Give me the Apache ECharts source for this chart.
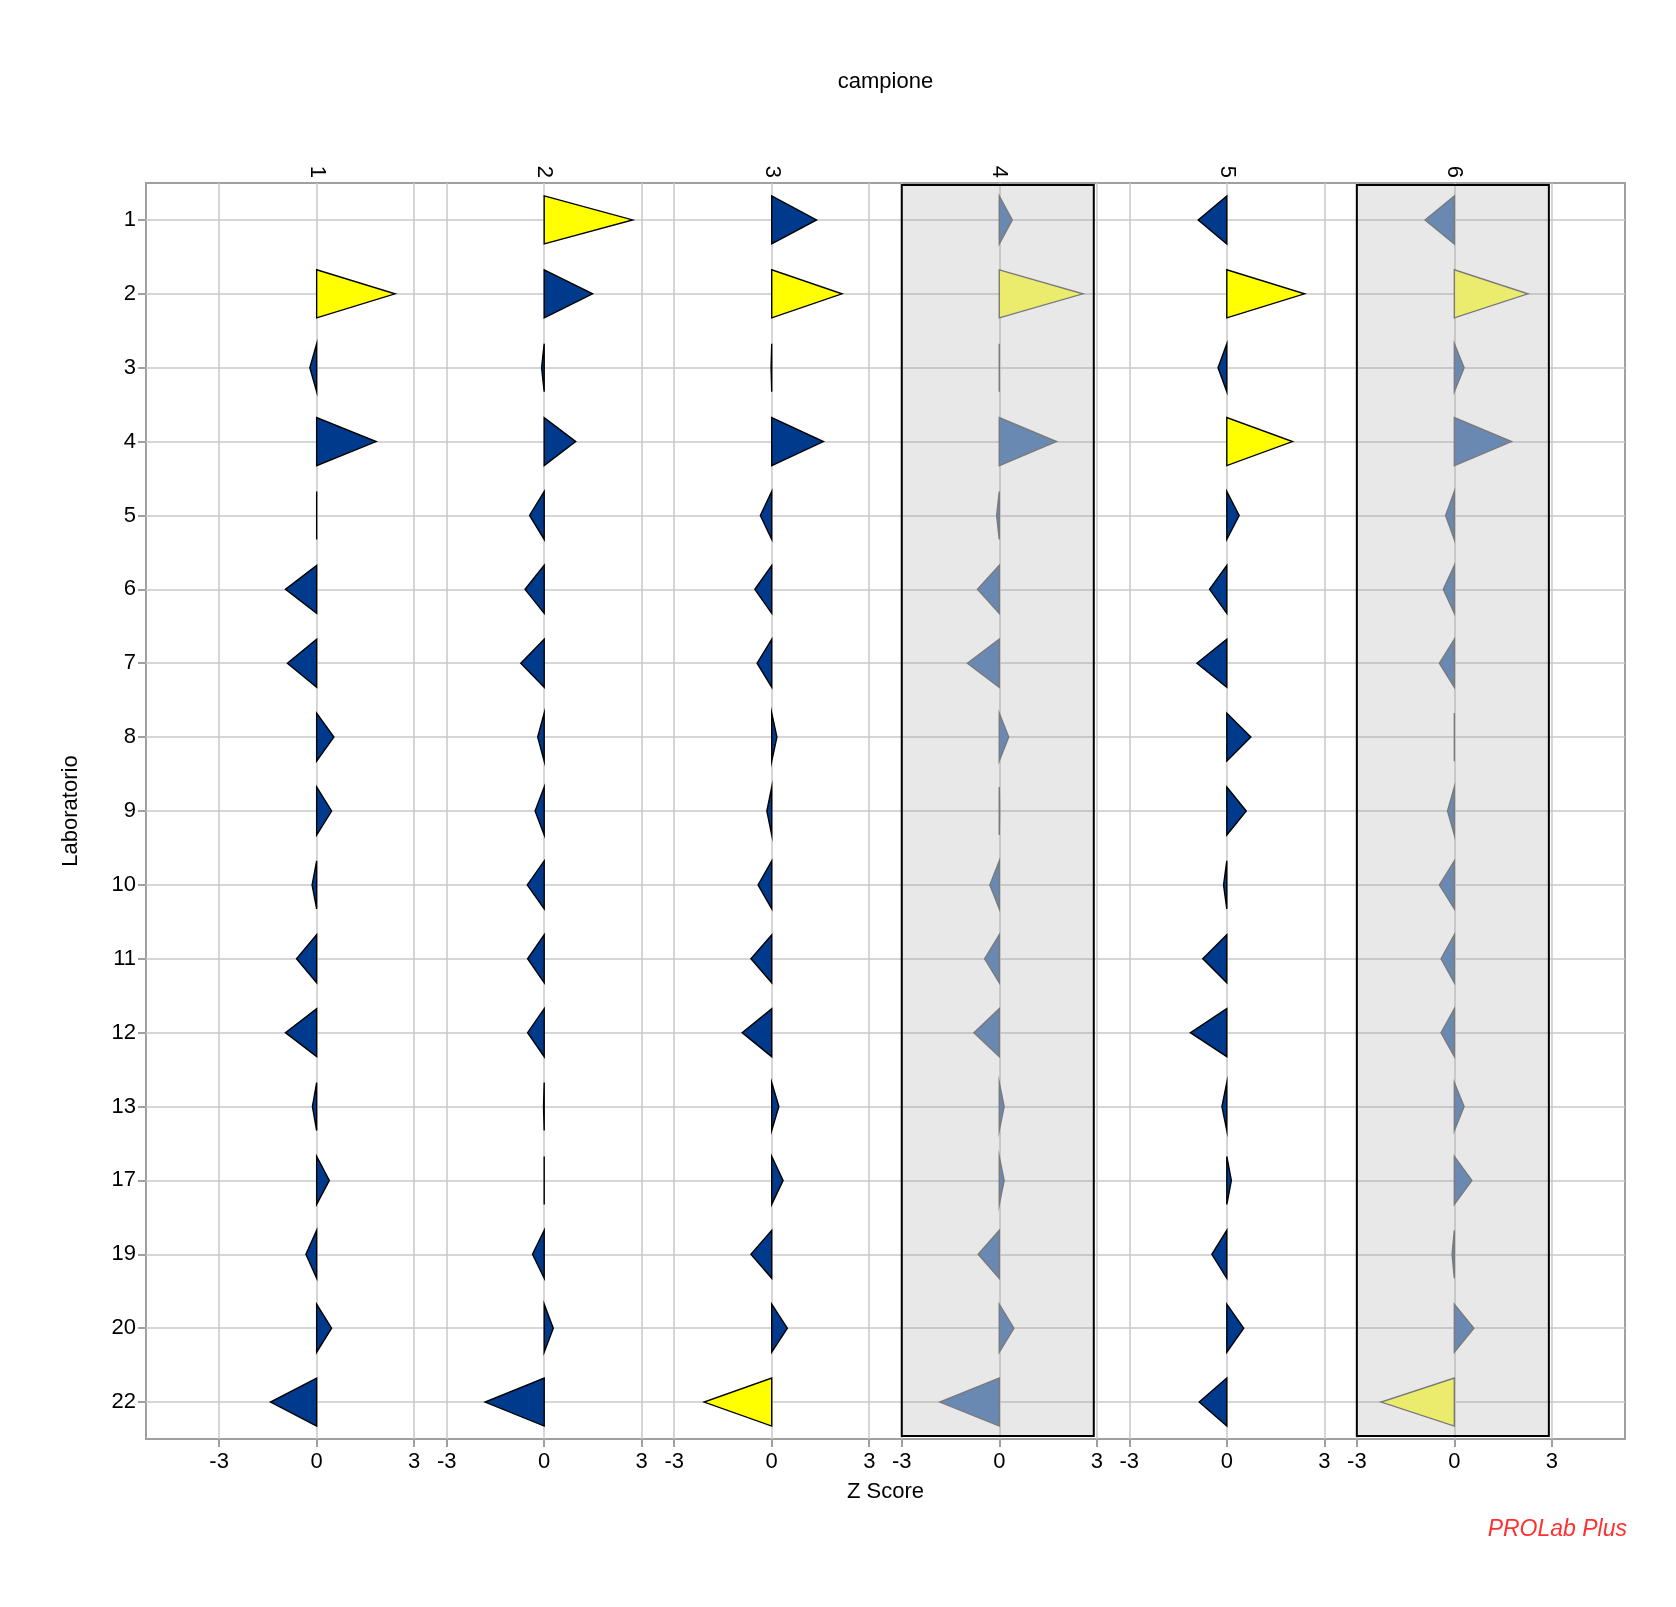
<!DOCTYPE html>
<html>
<head>
<meta charset="utf-8">
<script src="https://cdn.jsdelivr.net/npm/echarts@6/dist/echarts.min.js"></script>
<style>
html,body{margin:0;padding:0;background:#fff;}
#main{width:1676px;height:1607px;}
</style>
</head>
<body>
<div id="main"></div>
<script>
// Laboratories (rows, top to bottom)
const labs = ['1','2','3','4','5','6','7','8','9','10','11','12','13','17','19','20','22'];
// Samples (panels, left to right)
const samples = ['1','2','3','4','5','6'];
// Panels drawn with grey shaded box
const shadedSamples = ['4','6'];
// Z scores per sample, one value per laboratory (null = missing)
const z1 = [null, 2.41, -0.21, 1.83, 0.0, -0.96, -0.90, 0.53, 0.46, -0.14, -0.62, -0.96, -0.13, 0.39, -0.33, 0.46, -1.42];
const z2 = [2.72, 1.49, -0.08, 0.97, -0.45, -0.59, -0.72, -0.20, -0.28, -0.52, -0.51, -0.51, -0.02, 0.0, -0.36, 0.28, -1.82];
const z3 = [1.38, 2.16, -0.02, 1.59, -0.35, -0.52, -0.45, 0.16, -0.15, -0.42, -0.64, -0.91, 0.22, 0.35, -0.64, 0.48, -2.08];
const z4 = [0.40, 2.57, 0.0, 1.76, -0.08, -0.67, -0.98, 0.29, 0.01, -0.29, -0.45, -0.78, 0.15, 0.15, -0.65, 0.45, -1.83];
const z5 = [-0.88, 2.39, -0.27, 2.02, 0.38, -0.53, -0.92, 0.74, 0.60, -0.10, -0.74, -1.12, -0.15, 0.14, -0.46, 0.52, -0.85];
const z6 = [-0.90, 2.26, 0.30, 1.76, -0.27, -0.34, -0.46, 0.0, -0.21, -0.46, -0.41, -0.41, 0.30, 0.54, -0.07, 0.60, -2.25];
// Tick labels of each panel's Z axis
const zTicks = [-3, 0, 3];

const allZ = [z1, z2, z3, z4, z5, z6];
const PANEL_STEP = 7;

// build data for the library
const triData = [];
allZ.forEach(function (arr, p) {
  arr.forEach(function (v, r) {
    if (v !== null) triData.push([p, r, v]);
  });
});
const boxData = [];
samples.forEach(function (s, p) { if (shadedSamples.indexOf(s) >= 0) boxData.push([p]); });

const xTickValues = [];
samples.forEach(function (s, p) { zTicks.forEach(function (t) { xTickValues.push(p * PANEL_STEP + t); }); });
const panelCenters = samples.map(function (s, p) { return p * PANEL_STEP; });
const rowValues = labs.map(function (l, i) { return i; });

const FONT = 'Arial, "Liberation Sans", sans-serif';
const FS = 22;

const chart = echarts.init(document.getElementById('main'), null, {renderer: 'canvas'});

function renderTri(params, api) {
  const p = api.value(0), r = api.value(1), z = api.value(2);
  const base = api.coord([p * PANEL_STEP, r]);
  const tip = api.coord([p * PANEL_STEP + z, r]);
  const h = Math.abs(api.size([0, 1])[1]) * 0.325;
  const faded = shadedSamples.indexOf(samples[p]) >= 0;
  const out = Math.abs(z) >= 2;
  let fill, stroke;
  if (faded) {
    fill = out ? '#ebeb6e' : '#6a89b2';
    stroke = '#7a7a7a';
  } else {
    fill = out ? '#ffff00' : '#003a8c';
    stroke = '#000000';
  }
  return {
    type: 'polygon',
    shape: {points: [[base[0], base[1] - h], [base[0], base[1] + h], [tip[0], tip[1]]]},
    style: {fill: fill, stroke: stroke, lineWidth: 1.4}
  };
}

function renderBox(params, api) {
  const p = api.value(0);
  const a = api.coord([p * PANEL_STEP + zTicks[0], -0.5]);
  const b = api.coord([p * PANEL_STEP + zTicks[zTicks.length - 1], labs.length - 0.5]);
  const y0 = Math.min(a[1], b[1]) + 2, y1 = Math.max(a[1], b[1]) - 3;
  return {
    type: 'rect',
    shape: {x: a[0], y: y0, width: b[0] - a[0] - 3, height: y1 - y0},
    style: {fill: 'rgba(150,150,150,0.22)', stroke: '#000', lineWidth: 2}
  };
}

const option = {
  animation: false,
  backgroundColor: '#ffffff',
  textStyle: {fontFamily: FONT},
  grid: {left: 146, right: 51, top: 183, bottom: 168, show: true, borderColor: '#a0a0a0', borderWidth: 2, backgroundColor: '#ffffff'},
  xAxis: [
    {
      type: 'value', position: 'bottom', min: -5.25, max: (samples.length - 1) * PANEL_STEP + 5.25,
      name: 'Z Score', nameLocation: 'middle', nameGap: 42,
      nameTextStyle: {fontFamily: FONT, fontSize: FS, color: '#000'},
      axisLine: {show: false, onZero: false},
      axisTick: {show: true, length: 8, customValues: xTickValues, lineStyle: {color: '#a0a0a0', width: 2}},
      axisLabel: {
        customValues: xTickValues, margin: 12, fontFamily: FONT, fontSize: FS, color: '#000',
        formatter: function (v) { const t = Math.round(v - PANEL_STEP * Math.round(v / PANEL_STEP)); return String(t); }
      },
      splitLine: {show: true, lineStyle: {color: '#c8c8c8', width: 1.5}}
    },
    {
      type: 'value', position: 'top', min: -5.25, max: (samples.length - 1) * PANEL_STEP + 5.25,
      name: 'campione', nameLocation: 'middle', nameGap: 90,
      nameTextStyle: {fontFamily: FONT, fontSize: FS, color: '#000'},
      axisLine: {show: false, onZero: false},
      axisTick: {show: false, customValues: panelCenters},
      axisLabel: {
        customValues: panelCenters, rotate: 90, margin: 5, fontFamily: FONT, fontSize: FS, color: '#000',
        formatter: function (v) { return samples[Math.round(v / PANEL_STEP)]; }
      },
      splitLine: {show: false}
    }
  ],
  yAxis: {
    type: 'value', inverse: true, min: -0.5, max: labs.length - 0.5,
    name: 'Laboratorio', nameLocation: 'middle', nameGap: 64,
    nameTextStyle: {fontFamily: FONT, fontSize: FS, color: '#000'},
    axisLine: {show: false, onZero: false},
    axisTick: {show: true, length: 8, customValues: rowValues, lineStyle: {color: '#a0a0a0', width: 2}},
    axisLabel: {
      customValues: rowValues, margin: 10, fontFamily: FONT, fontSize: FS, color: '#000',
      formatter: function (v) { return labs[Math.round(v)]; }
    },
    splitLine: {show: true, lineStyle: {color: '#c8c8c8', width: 1.5}}
  },
  series: [
    {type: 'custom', name: 'box', xAxisIndex: 0, yAxisIndex: 0, data: boxData, renderItem: renderBox, z: 1, silent: true, clip: false},
    {type: 'custom', name: 'z', xAxisIndex: 0, yAxisIndex: 0, data: triData, renderItem: renderTri, z: 3}
  ],
  graphic: [
    {type: 'text', right: 49, top: 1518, style: {text: 'PROLab Plus', fill: '#ff3030', font: 'italic 23px Arial, "Liberation Sans", sans-serif'}}
  ]
};
chart.setOption(option);
</script>
</body>
</html>
